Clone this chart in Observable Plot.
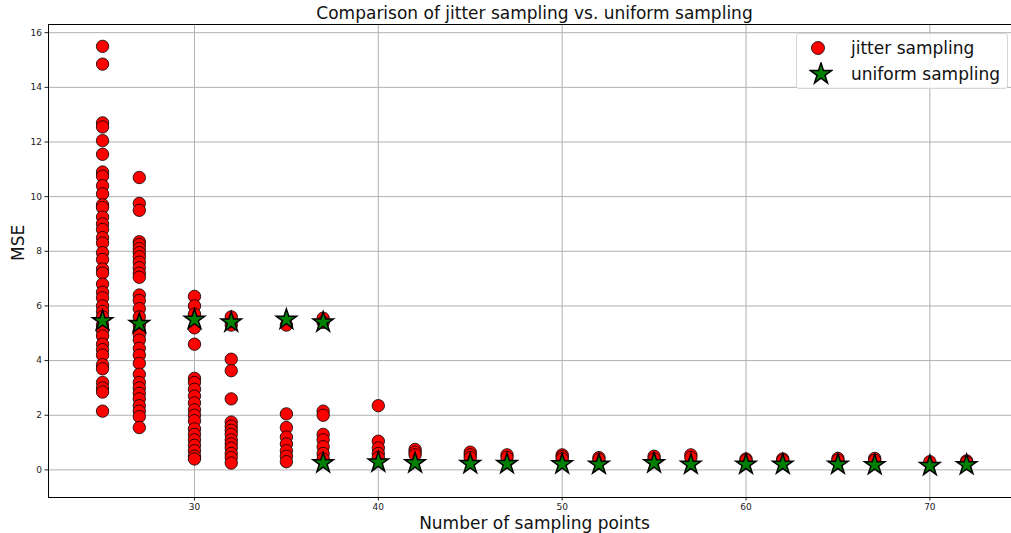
<!DOCTYPE html>
<html><head><meta charset="utf-8">
<script src="https://cdn.jsdelivr.net/npm/d3@7"></script>
<script src="https://cdn.jsdelivr.net/npm/@observablehq/plot@0.6"></script>
<style>
body{margin:0;background:#fff;font-family:"DejaVu Sans",sans-serif}
#wrap{position:relative;width:1011px;height:533px;overflow:hidden}
#legend{position:absolute;left:796px;top:33px;width:212px;height:56px;box-sizing:border-box;border:1px solid #d6d6d6;border-radius:3px;background:rgba(255,255,255,0.85);font-size:17px;color:#111}
#legend .row{position:absolute;left:0;height:26px;display:flex;align-items:center}
#legend svg{margin-left:12px;margin-right:18px}
</style></head>
<body><div id="wrap"></div>
<script>
const title = "Comparison of jitter sampling vs. uniform sampling";
const xLabel = "Number of sampling points";
const yLabel = "MSE";
const seriesNames = ["jitter sampling", "uniform sampling"];
const xTicks = [30, 40, 50, 60, 70];
const yTicks = [0, 2, 4, 6, 8, 10, 12, 14, 16];

const sampleCounts = [25, 27, 30, 32, 35, 37, 40, 42, 45, 47, 50, 52, 55, 57, 60, 62, 65, 67, 70, 72];
const jitterMSE = [
  [15.5, 14.85, 12.7, 12.55, 12.05, 11.55, 10.9, 10.75, 10.4, 10.1, 9.7, 9.6, 9.25, 9.0, 8.8, 8.5, 8.3, 7.95, 7.7, 7.35, 7.2, 6.8, 6.5, 6.3, 6.0, 5.8, 5.6, 5.3, 5.1, 4.9, 4.6, 4.4, 4.2, 3.85, 3.7, 3.2, 3.0, 2.85, 2.15],
  [10.7, 9.75, 9.5, 8.35, 8.25, 8.1, 7.95, 7.8, 7.6, 7.4, 7.2, 7.05, 6.4, 6.2, 5.9, 5.6, 5.3, 5.1, 4.95, 4.75, 4.45, 4.2, 3.9, 3.5, 3.2, 3.0, 2.8, 2.6, 2.35, 2.15, 1.95, 1.55],
  [6.35, 6.0, 5.7, 5.2, 4.6, 3.35, 3.2, 2.95, 2.7, 2.45, 2.2, 2.0, 1.8, 1.5, 1.3, 1.1, 0.9, 0.7, 0.5, 0.4],
  [5.6, 5.3, 4.05, 3.63, 2.6, 1.75, 1.6, 1.45, 1.3, 1.1, 0.95, 0.8, 0.6, 0.45, 0.25],
  [5.3, 2.05, 1.55, 1.2, 0.95, 0.7, 0.5, 0.3],
  [5.55, 5.4, 2.15, 2.0, 1.3, 1.1, 0.85, 0.6, 0.4],
  [2.35, 1.05, 0.8, 0.6, 0.45],
  [0.75, 0.65, 0.55],
  [0.65, 0.55, 0.45],
  [0.55, 0.45],
  [0.55, 0.48, 0.4],
  [0.45, 0.38],
  [0.5, 0.4],
  [0.55, 0.45],
  [0.4, 0.35],
  [0.4, 0.35],
  [0.42, 0.35],
  [0.42, 0.35],
  [0.3],
  [0.33, 0.28]
];
const uniformCounts = [25, 27, 30, 32, 35, 37, 37, 40, 42, 45, 47, 50, 52, 55, 57, 60, 62, 65, 67, 70, 72];
const uniformMSE = [5.45, 5.35, 5.5, 5.4, 5.5, 5.4, 0.25, 0.28, 0.25, 0.22, 0.22, 0.21, 0.2, 0.25, 0.2, 0.2, 0.2, 0.2, 0.18, 0.15, 0.18];

const jitter = sampleCounts.flatMap((n, i) => jitterMSE[i].map(v => ({n, v})));
const uniform = uniformCounts.map((n, i) => ({n, v: uniformMSE[i]}));

const chart = Plot.plot({
  width: 1011, height: 533,
  marginLeft: 48, marginRight: -9, marginTop: 24, marginBottom: 36,
  style: {fontFamily: "DejaVu Sans, sans-serif", background: "#fff", overflow: "visible"},
  x: {domain: [22.06, 74.93]},
  y: {domain: [-1.01, 16.30]},
  marks: [
    Plot.gridX(xTicks, {stroke: "#b0b0b0", strokeOpacity: 1, strokeWidth: 1}),
    Plot.gridY(yTicks, {stroke: "#b0b0b0", strokeOpacity: 1, strokeWidth: 1}),
    Plot.axisX(xTicks, {tickSize: 3.5, fontSize: 9, fill: "#222", stroke: "#222", tickPadding: 3, label: null}),
    Plot.axisY(yTicks, {tickSize: 3.5, fontSize: 9, fill: "#222", stroke: "#222", tickPadding: 3, label: null}),
    Plot.dot(jitter, {x: "n", y: "v", r: 6.2, fill: "red", stroke: "black", strokeWidth: 0.8}),
    Plot.dot(uniform, {x: "n", y: "v", r: 6.4, symbol: "star", fill: "green", stroke: "black", strokeWidth: 1.5}),
    Plot.frame({stroke: "black", strokeWidth: 1}),
    Plot.text([title], {frameAnchor: "top", lineAnchor: "middle", dy: -11, fontSize: 17, fill: "#111"}),
    Plot.text([xLabel], {frameAnchor: "bottom", lineAnchor: "middle", dy: 26, fontSize: 17, fill: "#111"}),
    Plot.text([yLabel], {frameAnchor: "left", lineAnchor: "middle", dx: -30, rotate: -90, fontSize: 17, fill: "#111"})
  ]
});
const wrap = document.getElementById("wrap");
wrap.appendChild(chart);

const legend = document.createElement("div");
legend.id = "legend";
const sym = [
  `<svg width="18" height="18" viewBox="-9 -9 18 18"><circle r="6.5" fill="red" stroke="black" stroke-width="0.8"/></svg>`,
  `<svg width="24" height="24" viewBox="-12 -12 24 24"><path d="${d3.symbol(d3.symbolStar, Math.PI*6.6*6.6)()}" fill="green" stroke="black" stroke-width="1.5"/></svg>`
];
seriesNames.forEach((name, i) => {
  const row = document.createElement("div");
  row.className = "row";
  row.style.top = (i === 0 ? 1 : 27) + "px";
  row.innerHTML = sym[i] + `<span style="${i===0?'margin-left:6px':''}">${name}</span>`;
  legend.appendChild(row);
});
wrap.appendChild(legend);
</script>
</body></html>
